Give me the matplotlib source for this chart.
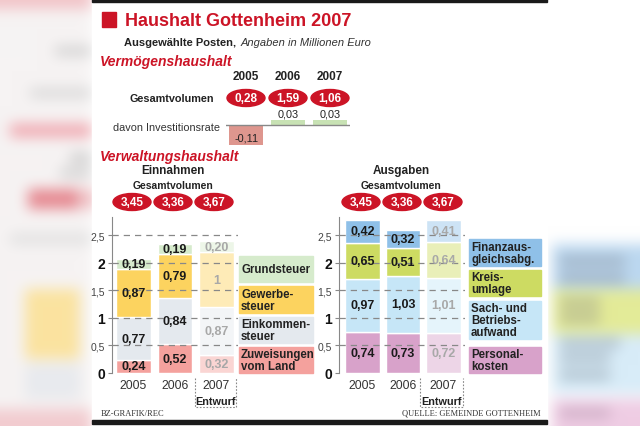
import numpy as np
import matplotlib
matplotlib.use("Agg")
import matplotlib.pyplot as plt
from matplotlib.patches import Rectangle, Ellipse

plt.rcParams['font.family'] = ['Liberation Sans', 'DejaVu Sans']

# data (millions of euro)
years = ['2005', '2006', '2007']
verm_total = [0.28, 1.59, 1.06]
invest = [-0.11, 0.03, 0.03]
ein_total = [3.45, 3.36, 3.67]
aus_total = [3.45, 3.36, 3.67]

zuweisungen = [0.24, 0.52, 0.32]
einkommen = [0.77, 0.84, 0.87]
gewerbe = [0.87, 0.79, 1.00]
grund = [0.19, 0.19, 0.20]

personal = [0.74, 0.73, 0.72]
sach = [0.97, 1.03, 1.01]
kreis = [0.65, 0.51, 0.64]
finanz = [0.42, 0.32, 0.41]

ein_names = ['Zuweisungen\nvom Land', 'Einkommen-\nsteuer', 'Gewerbe-\nsteuer', 'Grundsteuer']
aus_names = ['Personal-\nkosten', 'Sach- und\nBetriebs-\naufwand', 'Kreis-\numlage', 'Finanzaus-\ngleichsabg.']
ein_colors = ['#f4a19d', '#e4e9ee', '#fcd35f', '#d6ebcc']
aus_colors = ['#d8a2ca', '#c6e6f7', '#cddb62', '#8fc0e8']

RED = '#cc1426'
W, H = 640, 427


def fmt(v):
    if float(v).is_integer():
        return str(int(v))
    return f"{v:.2f}".replace('.', ',')


def tick_fmt(v):
    return f"{v:g}".replace('.', ',')


def pale(c, a=0.45):
    rgb = np.array(matplotlib.colors.to_rgb(c))
    return tuple(rgb * a + (1 - a))


def box_blur(img, r):
    for axis in (0, 1):
        for _ in range(3):
            pad = [(0, 0)] * 3
            pad[axis] = (r, r)
            p = np.pad(img, pad, mode='edge')
            c = np.cumsum(p, axis=axis)
            c = np.insert(c, 0, 0, axis=axis)
            n = img.shape[axis]
            img = (np.take(c, range(2 * r + 1, 2 * r + 1 + n), axis=axis)
                   - np.take(c, range(0, n), axis=axis)) / (2 * r + 1)
    return img


# blurred background behind the panel
bgimg = np.ones((H, W, 3))
bgimg[:, :92] = matplotlib.colors.to_rgb('#f6f3f3')
blobs = [
    (0, 10, 0, 92, '#f2c4c8'), (48, 56, 55, 92, '#cccccc'), (90, 98, 30, 92, '#d4d4d4'),
    (125, 138, 10, 92, '#f0a8b0'), (155, 163, 70, 92, '#c4c4c4'), (170, 178, 60, 92, '#cccccc'),
    (190, 210, 28, 80, '#e68a92'), (190, 210, 86, 92, '#e68a92'), (235, 245, 10, 92, '#e0e0e0'),
    (290, 360, 25, 80, '#fbe3a0'), (365, 400, 25, 80, '#e8eaee'), (410, 427, 0, 92, '#f2ccd0'),
    (245, 290, 552, 640, '#bcd8f0'), (290, 335, 552, 640, '#e4eb98'),
    (335, 395, 552, 640, '#d8ecf8'), (400, 427, 552, 640, '#efcde4'),
    (258, 266, 560, 625, '#9aaabb'), (275, 283, 560, 625, '#9aaabb'),
    (300, 308, 560, 600, '#b0b490'), (315, 323, 560, 600, '#b0b490'),
    (340, 348, 560, 620, '#a8b8c4'), (355, 363, 560, 610, '#a8b8c4'), (372, 380, 560, 610, '#a8b8c4'),
    (410, 418, 560, 610, '#c8a8c0'),
]
for y0, y1, x0, x1, c in blobs:
    bgimg[y0:y1, x0:x1] = matplotlib.colors.to_rgb(c)
bgimg = np.clip(box_blur(bgimg, 6), 0, 1)

fig = plt.figure(figsize=(6.4, 4.27), dpi=100)
bg = fig.add_axes([0, 0, 1, 1])
bg.set_xlim(0, W)
bg.set_ylim(H, 0)
bg.axis('off')
bg.imshow(bgimg, extent=(0, W, H, 0), aspect='auto', zorder=0)
bg.add_patch(Rectangle((92, 0), 455, H, color='white', zorder=1))
bg.add_patch(Rectangle((92, 0), 455, 3, color='#1a1a1a', zorder=2))
bg.add_patch(Rectangle((92, 421), 455, 4, color='#1a1a1a', zorder=2))

# header
bg.add_patch(Rectangle((102, 13), 14, 15, color=RED, zorder=2))
bg.text(125, 21, 'Haushalt Gottenheim 2007', color=RED, fontsize=13, fontweight='bold',
        va='center', zorder=3)
bg.text(124, 43, 'Ausgewählte Posten,', fontsize=8, fontweight='bold', color='#222', va='center', zorder=3)
bg.text(241, 43, 'Angaben in Millionen Euro', fontsize=8, style='italic', color='#333', va='center', zorder=3)
bg.text(100, 62, 'Vermögenshaushalt', fontsize=10, fontweight='bold', style='italic', color=RED,
        va='center', zorder=3)

# Vermoegenshaushalt
vx = [246, 288, 330]
for x, y in zip(vx, years):
    bg.text(x, 77, y, fontsize=8.5, fontweight='bold', ha='center', va='center', color='#222', zorder=3)
bg.text(172, 99, 'Gesamtvolumen', fontsize=7.8, fontweight='bold', ha='center', va='center',
        color='#222', zorder=3)


def ovals(xs, y, vals):
    for x, v in zip(xs, vals):
        bg.add_patch(Ellipse((x, y), 38, 17, color=RED, zorder=3))
        bg.text(x, y + 0.5, fmt(v), color='white', fontsize=8.5, fontweight='bold',
                ha='center', va='center', zorder=4)


ovals(vx, 99, verm_total)
bg.text(113, 128, 'davon Investitionsrate', fontsize=7.8, color='#333', va='center', zorder=3)

ax_inv = fig.add_axes([226 / W, 1 - 150 / H, 124 / W, 40 / H])
ax_inv.set_xlim(-0.48, 2.48)
ax_inv.set_ylim(-0.13, 0.09)
ax_inv.axis('off')
inv_colors = ['#de968e' if v < 0 else '#c8e2b4' for v in invest]
ax_inv.bar(range(3), invest, width=0.81, color=inv_colors, zorder=2)
ax_inv.axhline(0, color='#888', lw=1, zorder=3)
for i, v in enumerate(invest):
    if v < 0:
        ax_inv.text(i, v / 2 - 0.01, fmt(v), ha='center', va='center', fontsize=7.8, color='#222')
    else:
        ax_inv.text(i, v + 0.005, fmt(v), ha='center', va='bottom', fontsize=7.8, color='#222')

# Verwaltungshaushalt
bg.text(100, 157, 'Verwaltungshaushalt', fontsize=10, fontweight='bold', style='italic', color=RED,
        va='center', zorder=3)
bg.text(173, 171, 'Einnahmen', fontsize=8.5, fontweight='bold', ha='center', va='center', color='#222', zorder=3)
bg.text(173, 186, 'Gesamtvolumen', fontsize=7.5, fontweight='bold', ha='center', va='center', color='#222', zorder=3)
bg.text(401, 171, 'Ausgaben', fontsize=8.5, fontweight='bold', ha='center', va='center', color='#222', zorder=3)
bg.text(401, 186, 'Gesamtvolumen', fontsize=7.5, fontweight='bold', ha='center', va='center', color='#222', zorder=3)
ovals([132, 173, 214], 203, ein_total)
ovals([361, 402, 443], 203, aus_total)


def stack_chart(px0, px1, xleft, xright, width, series, colors):
    ax = fig.add_axes([px0 / W, 1 - 374 / H, (px1 - px0) / W, (374 - 218) / H])
    ax.set_xlim(xleft, xright)
    ax.set_ylim(0, 2.83)
    ax.patch.set_alpha(0)
    for s in ['top', 'right', 'bottom']:
        ax.spines[s].set_visible(False)
    ax.spines['left'].set_color('#888')
    bottoms = np.zeros(3)
    for vals, col in zip(series, colors):
        vals = np.array(vals)
        cols = [col, col, pale(col)]
        ax.bar(range(3), vals, width=width, bottom=bottoms, color=cols, edgecolor='white',
               linewidth=1, zorder=2)
        for i in range(3):
            ax.text(i, bottoms[i] + vals[i] / 2, fmt(vals[i]), ha='center', va='center',
                    fontsize=9, fontweight='bold', color='#1a1a1a' if i < 2 else '#a8a8a8', zorder=5)
        bottoms += vals
    ticks = [0, 0.5, 1, 1.5, 2, 2.5]
    ax.set_yticks(ticks)
    ax.set_yticklabels([tick_fmt(t) for t in ticks])
    for t, lab in zip(ticks, ax.get_yticklabels()):
        if float(t).is_integer():
            lab.set_fontsize(10)
            lab.set_fontweight('bold')
            lab.set_color('#111')
        else:
            lab.set_fontsize(7.5)
            lab.set_color('#444')
    ax.tick_params(axis='y', length=3, color='#888', pad=2)
    for t in ticks[1:]:
        ax.axhline(t, color='#888', lw=0.9, ls=(0, (5, 4)), zorder=3)
    ax.set_xticks(range(3))
    ax.set_xticklabels(years, fontsize=8.8, color='#333')
    ax.tick_params(axis='x', length=0, pad=4)
    return ax


stack_chart(112, 238, -0.52, 2.52, 0.84, [zuweisungen, einkommen, gewerbe, grund], ein_colors)
stack_chart(339, 465, -0.58, 2.53, 0.86, [personal, sach, kreis, finanz], aus_colors)

# Entwurf boxes
for x0, x1 in [(195, 236), (420, 463)]:
    xc = (x0 + x1) / 2
    bg.text(xc, 402, 'Entwurf', fontsize=7.8, fontweight='bold', ha='center', va='center', color='#222', zorder=3)
    bg.plot([x0, x0, x1, x1], [379, 408, 408, 379], color='#888', lw=0.8, ls=(0, (1.5, 1.5)), zorder=3)

# legend boxes
ein_boxes = [(348, 374), (318, 344), (287, 314), (257, 283)]
aus_boxes = [(348, 374), (302, 340), (271, 297), (240, 267)]
for (y0, y1), name, col in zip(ein_boxes, ein_names, ein_colors):
    bg.add_patch(Rectangle((239, y0), 74, y1 - y0, color=col, zorder=2))
    bg.text(241, (y0 + y1) / 2 + 0.5, name, fontsize=8.3, fontweight='bold', color='#222',
            va='center', linespacing=1.0, zorder=3)
for (y0, y1), name, col in zip(aus_boxes, aus_names, aus_colors):
    bg.add_patch(Rectangle((469, y0), 72, y1 - y0, color=col, zorder=2))
    bg.text(471, (y0 + y1) / 2 + 0.5, name, fontsize=8.3, fontweight='bold', color='#222',
            va='center', linespacing=1.0, zorder=3)

# footer
bg.text(101, 414, 'BZ-GRAFIK/REC', fontsize=6, family='Liberation Serif', color='#333', va='center', zorder=3)
bg.text(541, 414, 'QUELLE: GEMEINDE GOTTENHEIM', fontsize=6, family='Liberation Serif', color='#333',
        ha='right', va='center', zorder=3)

fig.savefig('out.png', dpi=100)
